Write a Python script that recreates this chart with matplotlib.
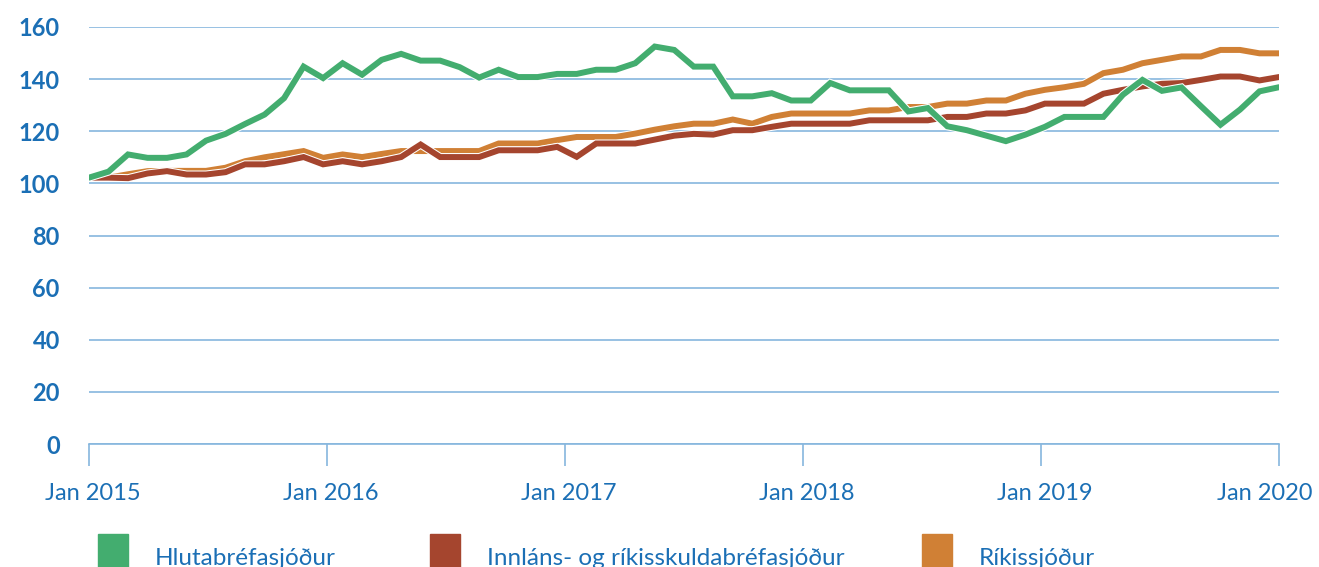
import numpy as np
import matplotlib
matplotlib.use("Agg")
import matplotlib.pyplot as plt
import matplotlib.patheffects as pe
import matplotlib.transforms as mtransforms
from matplotlib.patches import Rectangle

# Monthly index values, Jan 2015 -> Jan 2020
hlutabref = [102.2, 104.5, 111.1, 109.8, 109.8, 111.1, 116.4, 119.0, 122.8, 126.4,
             132.7, 144.8, 140.4, 146.1, 141.7, 147.4, 149.7, 147.1, 147.1, 144.6,
             140.6, 143.6, 140.8, 140.8, 142.0, 142.0, 143.6, 143.6, 146.1, 152.5,
             151.2, 144.8, 144.8, 133.4, 133.4, 134.6, 131.8, 131.8, 138.5, 135.7,
             135.7, 135.7, 127.6, 128.9, 121.9, 120.4, 118.3, 116.2, 118.7, 121.7,
             125.5, 125.5, 125.5, 134.0, 139.7, 135.5, 136.8, 129.6, 122.5, 128.3,
             135.3, 136.9]
innlans = [102.2, 102.2, 102.0, 103.8, 104.7, 103.4, 103.4, 104.3, 107.3, 107.3,
           108.5, 110.1, 107.3, 108.5, 107.3, 108.5, 110.1, 114.9, 110.1, 110.1,
           110.1, 112.7, 112.7, 112.7, 114.0, 110.2, 115.3, 115.3, 115.3, 116.8,
           118.3, 119.0, 118.7, 120.4, 120.4, 121.7, 122.9, 122.9, 122.9, 122.9,
           124.2, 124.2, 124.2, 124.2, 125.5, 125.5, 126.8, 126.8, 128.0, 130.6,
           130.6, 130.6, 134.4, 135.9, 137.2, 138.2, 138.5, 139.7, 141.0, 141.0,
           139.5, 140.8]
rikis = [102.2, 102.2, 103.5, 104.7, 104.8, 104.8, 104.8, 106.0, 108.5, 110.0,
         111.2, 112.4, 109.8, 111.1, 110.1, 111.3, 112.4, 112.4, 112.4, 112.4,
         112.4, 115.3, 115.3, 115.3, 116.6, 117.8, 117.8, 117.8, 119.1, 120.6,
         121.9, 122.9, 122.9, 124.5, 122.9, 125.5, 126.8, 126.8, 126.8, 126.8,
         128.0, 128.0, 129.3, 129.3, 130.6, 130.6, 131.8, 131.8, 134.4, 135.9,
         136.9, 138.2, 142.3, 143.6, 146.1, 147.4, 148.7, 148.7, 151.2, 151.2,
         149.9, 149.9]

series_names = ["Hlutabréfasjóður", "Innláns- og ríkisskuldabréfasjóður", "Ríkissjóður"]
colors = ["#43ad6f", "#a5452e", "#d08035"]
year_labels = ["Jan 2015", "Jan 2016", "Jan 2017", "Jan 2018", "Jan 2019", "Jan 2020"]
y_ticks = [0, 20, 40, 60, 80, 100, 120, 140, 160]

text_blue = "#1b6fb5"
grid_blue = "#86b6de"

plt.rcParams["font.family"] = ["Lato", "DejaVu Sans"]

fig = plt.figure(figsize=(13.19, 5.67), dpi=100)
ax = fig.add_axes([89 / 1319, 123 / 567, 1190 / 1319, 417 / 567])

x = np.arange(len(hlutabref))
stroke = [pe.Stroke(linewidth=5.8, foreground="white"), pe.Normal()]
for vals, c in zip([rikis, innlans, hlutabref], [colors[2], colors[1], colors[0]]):
    ax.plot(x, vals, color=c, lw=4.3, solid_joinstyle="miter",
            solid_capstyle="round", path_effects=stroke, zorder=3)

ax.set_xlim(0, len(x) - 1)
ax.set_ylim(0, 160)
ax.set_yticks(y_ticks)
ax.set_yticklabels([str(v) for v in y_ticks], fontsize=17, fontweight="bold",
                   color=text_blue)
ax.tick_params(axis="y", length=0, pad=21)
ax.yaxis.grid(True, color=grid_blue, lw=1.2)
ax.set_axisbelow(True)

ax.set_xticks(np.linspace(0, len(x) - 1, len(year_labels)))
ax.set_xticklabels(year_labels, fontsize=17, color=text_blue)
ax.tick_params(axis="x", length=16, width=1.2, color=grid_blue, pad=12)
labels = ax.get_xticklabels()
for lab in labels[:-1]:
    lab.set_transform(lab.get_transform() +
                      mtransforms.ScaledTranslation(4 / 100, 0, fig.dpi_scale_trans))
labels[-1].set_transform(labels[-1].get_transform() +
                         mtransforms.ScaledTranslation(-14 / 100, 0, fig.dpi_scale_trans))

for s in ["top", "right", "left"]:
    ax.spines[s].set_visible(False)
ax.spines["bottom"].set_color(grid_blue)
ax.spines["bottom"].set_linewidth(1.2)

# legend below the chart
leg_x = [98, 430, 922]
for px, name, c in zip(leg_x, series_names, colors):
    fig.patches.append(Rectangle((px / 1319, 0), 30 / 1319, 33 / 567,
                                 transform=fig.transFigure, color=c))
    fig.text((px + 57) / 1319, 2 / 567, name, fontsize=17.5, color=text_blue,
             va="baseline")

fig.savefig("out.png", dpi=100)
